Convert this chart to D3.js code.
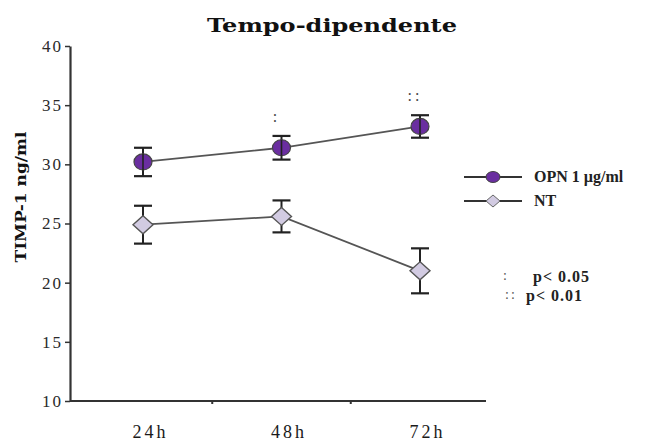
<!DOCTYPE html>
<html>
<head>
<meta charset="utf-8">
<script src="https://cdn.jsdelivr.net/npm/d3@7"></script>
<style>
  html, body { margin: 0; padding: 0; background: #fff; }
  svg { display: block; }
  text { font-family: "Liberation Serif", "DejaVu Serif", serif; fill: #222; }
</style>
</head>
<body>
<svg id="chart" width="667" height="444"></svg>
<script>
// Time points
const timepoints = ["24h", "48h", "72h"];
// TIMP-1 (ng/ml), mean and error for each group
const opnMean = [30.2, 31.4, 33.2];
const opnErr  = [1.2, 1.0, 0.95];
const ntMean  = [24.9, 25.6, 21.0];
const ntErr   = [1.6, 1.35, 1.9];
// Significance marks above the OPN points
const sigMarks = ["", ":", "::"];
// Y axis ticks
const yTicks = [10, 15, 20, 25, 30, 35, 40];

const svg = d3.select("#chart");

const x = d3.scalePoint().domain(timepoints).range([143, 420]);
const y = d3.scaleLinear().domain([10, 40]).range([401, 46]);

// Title
svg.append("text")
  .attr("x", 332).attr("y", 32)
  .attr("text-anchor", "middle")
  .attr("textLength", 250).attr("lengthAdjust", "spacingAndGlyphs")
  .style("font-family", "'DejaVu Serif', serif")
  .style("font-weight", "bold").style("font-size", "19px")
  .style("fill", "#111")
  .text("Tempo-dipendente");

// Y axis
const yAxis = svg.append("g")
  .attr("transform", "translate(70,0)")
  .call(d3.axisLeft(y).tickValues(yTicks).tickSize(5).tickSizeOuter(0).tickPadding(2));
yAxis.select(".domain").attr("stroke", "#333").attr("stroke-width", 2.2);
yAxis.selectAll(".tick line").attr("stroke", "#333").attr("stroke-width", 1.5);
yAxis.selectAll(".tick text")
  .style("font-family", "'Liberation Serif', serif")
  .style("font-size", "17px").style("letter-spacing", "2px")
  .style("fill", "#2a2a2a");

// Y axis title
svg.append("text")
  .attr("transform", "translate(26,197) rotate(-90)")
  .attr("text-anchor", "middle")
  .attr("textLength", 131).attr("lengthAdjust", "spacingAndGlyphs")
  .style("font-family", "'DejaVu Serif', serif")
  .style("font-weight", "bold").style("font-size", "15px")
  .style("fill", "#111")
  .text("TIMP-1 ng/ml");

// X axis baseline with small marks between categories
svg.append("line")
  .attr("x1", 70).attr("x2", 486)
  .attr("y1", 401).attr("y2", 401)
  .attr("stroke", "#333").attr("stroke-width", 2);
const step = x.step();
svg.selectAll(".mid-tick")
  .data(timepoints.slice(0, -1))
  .join("line")
  .attr("class", "mid-tick")
  .attr("x1", d => x(d) + step / 2).attr("x2", d => x(d) + step / 2)
  .attr("y1", 401).attr("y2", 404)
  .attr("stroke", "#333").attr("stroke-width", 2);

const xAxis = svg.append("g")
  .attr("transform", "translate(7,401)")
  .call(d3.axisBottom(x).tickSize(0).tickPadding(24));
xAxis.select(".domain").remove();
xAxis.selectAll(".tick text")
  .style("font-family", "'Liberation Serif', serif")
  .style("font-size", "18px").style("letter-spacing", "3px")
  .style("fill", "#1a1a1a");

// Build series
const series = [
  { name: "OPN 1 µg/ml", mean: opnMean, err: opnErr, shape: "circle", fill: "#6a2ea0" },
  { name: "NT", mean: ntMean, err: ntErr, shape: "diamond", fill: "#d2cbe2" }
];

const line = d3.line().x((d, i) => x(timepoints[i])).y(d => y(d));

series.forEach(s => {
  const g = svg.append("g");
  g.append("path")
    .attr("d", line(s.mean))
    .attr("fill", "none")
    .attr("stroke", "#555")
    .attr("stroke-width", 1.8);

  const pts = s.mean.map((m, i) => ({ t: timepoints[i], m, e: s.err[i] }));

  // Error bars
  const eb = g.selectAll(".eb").data(pts).join("g");
  eb.append("line")
    .attr("x1", d => x(d.t)).attr("x2", d => x(d.t))
    .attr("y1", d => y(d.m + d.e)).attr("y2", d => y(d.m - d.e))
    .attr("stroke", "#222").attr("stroke-width", 2);
  [1, -1].forEach(sign => {
    eb.append("line")
      .attr("x1", d => x(d.t) - 9).attr("x2", d => x(d.t) + 9)
      .attr("y1", d => y(d.m + sign * d.e)).attr("y2", d => y(d.m + sign * d.e))
      .attr("stroke", "#222").attr("stroke-width", 2.2);
  });

  // Markers
  if (s.shape === "circle") {
    g.selectAll(".mk").data(pts).join("ellipse")
      .attr("cx", d => x(d.t)).attr("cy", d => y(d.m))
      .attr("rx", 9).attr("ry", 8)
      .attr("fill", s.fill).attr("stroke", "#444").attr("stroke-width", 1.2);
    // the error bar shows through the filled marker
    g.selectAll(".inner").data(pts).join("line")
      .attr("x1", d => x(d.t)).attr("x2", d => x(d.t))
      .attr("y1", d => y(d.m) - 8).attr("y2", d => y(d.m) + 8)
      .attr("stroke", "#222").attr("stroke-width", 1.6);
  } else {
    g.selectAll(".mk").data(pts).join("path")
      .attr("d", d => {
        const cx = x(d.t), cy = y(d.m);
        return `M${cx},${cy - 9}L${cx + 10},${cy}L${cx},${cy + 9}L${cx - 10},${cy}Z`;
      })
      .attr("fill", s.fill).attr("stroke", "#555").attr("stroke-width", 1.4);
  }
});

// Significance marks above OPN error bars
svg.selectAll(".sig")
  .data(sigMarks.map((m, i) => ({ m, t: timepoints[i], top: opnMean[i] + opnErr[i] })))
  .join("text")
  .attr("class", "sig")
  .attr("x", d => x(d.t) - 5)
  .attr("y", d => y(d.top) - 14)
  .attr("text-anchor", "middle")
  .style("font-size", "16px").style("letter-spacing", "3px")
  .style("fill", "#444")
  .text(d => d.m);

// Legend
const legend = svg.append("g");
series.forEach((s, i) => {
  const ly = 177 + i * 24;
  legend.append("line")
    .attr("x1", 464).attr("x2", 522).attr("y1", ly).attr("y2", ly)
    .attr("stroke", "#333").attr("stroke-width", 2);
  if (s.shape === "circle") {
    legend.append("ellipse")
      .attr("cx", 493).attr("cy", ly).attr("rx", 7).attr("ry", 5.5)
      .attr("fill", s.fill).attr("stroke", "#444").attr("stroke-width", 1);
  } else {
    legend.append("path")
      .attr("d", `M493,${ly - 6}L500,${ly}L493,${ly + 6}L486,${ly}Z`)
      .attr("fill", s.fill).attr("stroke", "#666").attr("stroke-width", 1);
  }
  legend.append("text")
    .attr("x", 534).attr("y", ly + 5)
    .style("font-family", "'Liberation Serif', serif")
    .style("font-weight", "bold").style("font-size", "16px")
    .style("fill", "#222")
    .text(s.name);
});

// Significance key
const keyRows = [
  { mark: ":", label: "p< 0.05", mx: 506, lx: 533, y: 282 },
  { mark: "::", label: "p< 0.01", mx: 511, lx: 526, y: 301 }
];
keyRows.forEach(r => {
  svg.append("text").attr("x", r.mx).attr("y", r.y - 2)
    .attr("text-anchor", "middle")
    .style("font-size", "14px").style("letter-spacing", "2px").style("fill", "#555")
    .text(r.mark);
  svg.append("text").attr("x", r.lx).attr("y", r.y)
    .style("font-family", "'Liberation Serif', serif")
    .style("font-weight", "bold").style("font-size", "16px")
    .style("letter-spacing", "1px").style("fill", "#222")
    .text(r.label);
});
</script>
</body>
</html>
